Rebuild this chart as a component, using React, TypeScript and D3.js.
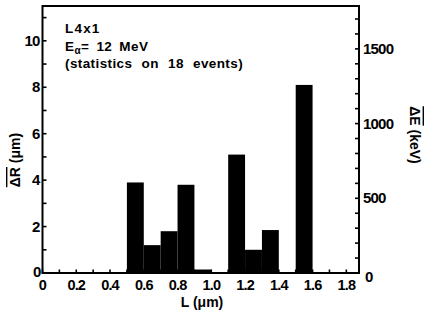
import React from "react";
import * as d3 from "d3";

// Bin starts (μm) of the L histogram, bin width 0.1 μm
const binStarts = [0.5, 0.6, 0.7, 0.8, 0.9, 1.1, 1.2, 1.3, 1.5];
// Mean range straggling per bin (μm)
const deltaR = [3.9, 1.2, 1.8, 3.8, 0.15, 5.1, 1.0, 1.85, 8.1];
const binWidth = 0.1;

const xTickLabels = [0, 0.2, 0.4, 0.6, 0.8, 1.0, 1.2, 1.4, 1.6, 1.8];
const leftTickLabels = [0, 2, 4, 6, 8, 10];
const rightTickLabels = [0, 500, 1000, 1500];

const W = 424;
const H = 321;
const plot = { left: 42.5, right: 359, top: 6, bottom: 273 };
const font = "'Liberation Sans', Arial, Helvetica, sans-serif";

export default function App() {
  const x = d3.scaleLinear().domain([0, 1.875]).range([plot.left, plot.right]);
  const yL = d3.scaleLinear().domain([0, 11.5]).range([plot.bottom, plot.top]);
  const yR = d3.scaleLinear().domain([0, 1787]).range([plot.bottom, plot.top]);

  const xMinor = d3.range(0, 19).map((i) => i / 10);
  const leftMinor = d3.range(0, 12);
  const rightMinor = d3.range(0, 1800, 100);

  const fmtX = (v: number) => (v === 0 ? "0" : v.toFixed(1));

  return (
    <div style={{ position: "fixed", left: 0, top: 0, width: W, height: H, background: "#fff" }}>
      <svg width={W} height={H} style={{ display: "block" }} fontFamily={font} fontWeight="bold">
        <rect width={W} height={H} fill="#fff" />

        {/* bars */}
        {binStarts.map((b, i) => (
          <rect
            key={i}
            x={x(b)}
            y={yL(deltaR[i])}
            width={x(b + binWidth) - x(b)}
            height={yL(0) - yL(deltaR[i])}
            fill="#000"
          />
        ))}

        {/* frame */}
        <rect
          x={plot.left}
          y={plot.top}
          width={plot.right - plot.left}
          height={plot.bottom - plot.top}
          fill="none"
          stroke="#000"
          strokeWidth={2}
        />

        {/* bottom ticks */}
        {xMinor.map((v) => (
          <line key={"xt" + v} x1={x(v)} x2={x(v)} y1={plot.bottom} y2={plot.bottom - 3.5} stroke="#000" strokeWidth={1.6} />
        ))}
        {xTickLabels.map((v) => (
          <text key={"xl" + v} x={x(v)} y={290} textAnchor="middle" fontSize={14.5} letterSpacing={-0.8}>
            {fmtX(v)}
          </text>
        ))}

        {/* left ticks */}
        {leftMinor.map((v) => (
          <line key={"lt" + v} x1={plot.left} x2={plot.left + 4} y1={yL(v)} y2={yL(v)} stroke="#000" strokeWidth={1.6} />
        ))}
        {leftTickLabels.map((v) => (
          <text
            key={"ll" + v}
            x={v === 0 ? plot.left - 2 : plot.left - 3}
            y={v === 0 ? yL(v) + 4 : yL(v) + 5}
            textAnchor="end"
            fontSize={15}
            letterSpacing={-0.8}
          >
            {v}
          </text>
        ))}

        {/* right ticks */}
        {rightMinor.map((v) => (
          <line key={"rt" + v} x1={plot.right} x2={plot.right - 4} y1={yR(v)} y2={yR(v)} stroke="#000" strokeWidth={1.6} />
        ))}
        {rightTickLabels.map((v) => (
          <text
            key={"rl" + v}
            x={v === 0 ? plot.right + 6 : plot.right + 4}
            y={v === 0 ? yR(v) + 9 : yR(v) + 5}
            fontSize={15}
            letterSpacing={-0.8}
          >
            {v}
          </text>
        ))}

        {/* axis titles */}
        <text x={202} y={307} textAnchor="middle" fontSize={14}>
          L (μm)
        </text>
        <g transform="translate(20,160) rotate(-90)">
          <text x={0} y={0} textAnchor="middle" fontSize={14}>
            <tspan textDecoration="overline">ΔR</tspan>
            <tspan> (μm)</tspan>
          </text>
        </g>
        <g transform="translate(410,135) rotate(90)">
          <text x={0} y={0} textAnchor="middle" fontSize={14}>
            <tspan textDecoration="overline">ΔE</tspan>
            <tspan> (keV)</tspan>
          </text>
        </g>

        {/* annotation */}
        <g fontSize={13.5} letterSpacing={0.4}>
          <text x={65} y={33} letterSpacing={1.2}>L4x1</text>
          <text x={65} y={51}>
            E<tspan fontSize={10} dy={3}>α</tspan>
            <tspan dy={-3} wordSpacing={3}>= 12 MeV</tspan>
          </text>
          <text x={65} y={68} wordSpacing={5}>
            (statistics on 18 events)
          </text>
        </g>
      </svg>
    </div>
  );
}
